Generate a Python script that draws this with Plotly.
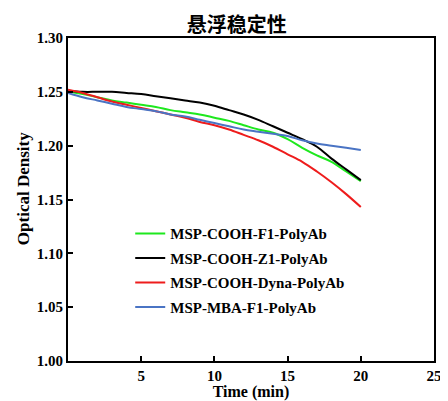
import plotly.graph_objects as go

time_min = list(range(0, 21))
series_names = ["MSP-COOH-F1-PolyAb", "MSP-COOH-Z1-PolyAb", "MSP-COOH-Dyna-PolyAb", "MSP-MBA-F1-PolyAb"]
green_od = [1.250, 1.248, 1.245, 1.242, 1.240, 1.238, 1.236, 1.233, 1.231, 1.229, 1.226,
            1.223, 1.219, 1.215, 1.212, 1.206, 1.198, 1.191, 1.185, 1.176, 1.167]
black_od = [1.251, 1.250, 1.250, 1.250, 1.249, 1.248, 1.246, 1.244, 1.242, 1.240, 1.237,
            1.233, 1.229, 1.224, 1.218, 1.212, 1.206, 1.199, 1.188, 1.178, 1.168]
red_od = [1.252, 1.249, 1.245, 1.241, 1.238, 1.235, 1.232, 1.229, 1.226, 1.222, 1.219,
          1.215, 1.210, 1.205, 1.199, 1.192, 1.185, 1.176, 1.166, 1.155, 1.143]
blue_od = [1.249, 1.245, 1.242, 1.239, 1.236, 1.234, 1.232, 1.229, 1.227, 1.224, 1.221,
           1.218, 1.215, 1.213, 1.211, 1.209, 1.205, 1.202, 1.200, 1.198, 1.196]
x_ticks = [5, 10, 15, 20, 25]
y_ticks = [1.00, 1.05, 1.10, 1.15, 1.20, 1.25, 1.30]

colors = ["#1ee81e", "#000000", "#ee1c1c", "#4a74c4"]
all_series = [green_od, black_od, red_od, blue_od]

serif = "Times New Roman, Liberation Serif, serif"

fig = go.Figure()
for i, (name, vals, col) in enumerate(zip(series_names, all_series, colors)):
    fig.add_trace(go.Scatter(
        x=time_min, y=vals, mode="lines", name=name,
        line=dict(color=col, width=2, shape="spline"),
        legendgroup=f"g{i}",
    ))

fig.update_layout(
    width=440, height=393,
    margin=dict(l=60, r=6, t=30, b=37),
    paper_bgcolor="white", plot_bgcolor="white",
    title=dict(text="悬浮稳定性", x=0.52, xanchor="center", y=0.956, yanchor="middle",
               font=dict(family="Noto Sans CJK SC", size=20, color="black", weight="bold")),
    font=dict(family=serif, size=15, color="black", weight="bold"),
    legend=dict(x=0.17, y=0.445, xanchor="left", yanchor="top",
                bgcolor="rgba(0,0,0,0)", borderwidth=0,
                font=dict(family=serif, size=15, color="black", weight="bold"),
                tracegroupgap=2, traceorder="grouped"),
    showlegend=True,
    annotations=[dict(text="Optical Density", textangle=-90, xref="paper", yref="paper",
                      x=-0.123, y=0.535, xanchor="center", yanchor="middle", showarrow=False,
                      font=dict(family=serif, size=17, color="black", weight="bold"))],
)
fig.update_xaxes(
    range=[0, 25], tickvals=x_ticks, ticktext=[str(v) for v in x_ticks],
    ticks="inside", ticklen=5, tickwidth=2, tickcolor="black",
    showline=True, linewidth=2, linecolor="black", mirror=True,
    showgrid=False, zeroline=False,
    title=dict(text="Time (min)", standoff=0, font=dict(family=serif, size=16, weight="bold")),
    tickfont=dict(family=serif, size=15, weight="bold"),
)
fig.update_yaxes(
    range=[1.0, 1.30], tickvals=y_ticks, ticktext=[f"{v:.2f}" for v in y_ticks],
    ticks="inside", ticklen=5, tickwidth=2, tickcolor="black",
    showline=True, linewidth=2, linecolor="black", mirror=True,
    showgrid=False, zeroline=False,
    tickfont=dict(family=serif, size=15, weight="bold"),
)

fig.write_html("out.html")
